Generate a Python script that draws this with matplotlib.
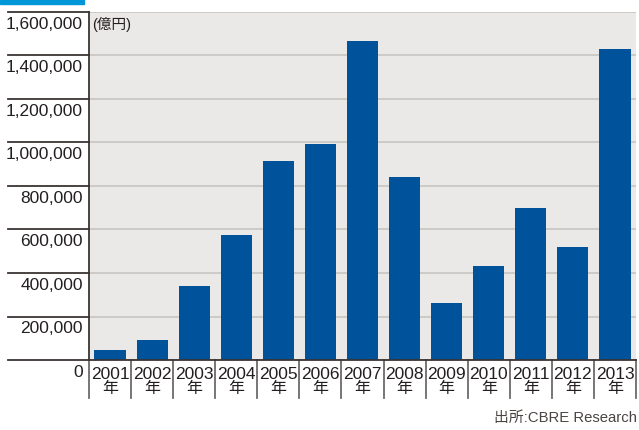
import matplotlib
matplotlib.use('Agg')
import matplotlib.pyplot as plt
from matplotlib.patches import Rectangle
import matplotlib.transforms as mtransforms

# data (億円)
years = ['2001', '2002', '2003', '2004', '2005', '2006', '2007',
         '2008', '2009', '2010', '2011', '2012', '2013']
values = [46000, 92000, 340000, 575000, 915000, 993000, 1467000,
          841000, 262000, 432000, 699000, 520000, 1430000]
y_ticks = [0, 200000, 400000, 600000, 800000, 1000000, 1200000, 1400000, 1600000]

fonts = ['Liberation Sans', 'Noto Sans CJK JP', 'DejaVu Sans']
plt.rcParams['font.family'] = fonts

text_color = '#231f20'
bar_color = '#00529b'
bg_color = '#ebe9e7'
grid_color = '#c9c8c4'
line_color = '#3a3533'

fig = plt.figure(figsize=(6.39, 4.30), dpi=100)
ax = fig.add_axes([89 / 639, 70 / 430, 547 / 639, 348 / 430])
ax.set_facecolor(bg_color)

x = list(range(len(years)))
ax.bar(x, values, width=0.74, color=bar_color, zorder=3)

ax.set_xlim(-0.5, len(years) - 0.5)
ax.set_ylim(0, 1600000)

# gridlines
ax.set_yticks(y_ticks)
ax.yaxis.grid(True, color=grid_color, linewidth=1.3, zorder=1)
ax.tick_params(axis='y', length=0, labelleft=False)
ax.tick_params(axis='x', length=0, labelbottom=False)

for side in ['top', 'right']:
    ax.spines[side].set_visible(False)
for side in ['left', 'bottom']:
    ax.spines[side].set_color(line_color)
    ax.spines[side].set_linewidth(1.3)
    ax.spines[side].set_zorder(4)

# y labels hanging just below the tick lines in the left margin
ytrans = mtransforms.blended_transform_factory(ax.transAxes, ax.transData)
x_left = -81 / 547
for v in y_ticks:
    ax.plot([x_left, 0], [v, v], transform=ytrans, color=line_color,
            linewidth=1.3, clip_on=False, zorder=4)
    ax.text(-6 / 547, v - 22000, f'{v:,}', transform=ytrans, ha='right',
            va='top', fontsize=12.5, color=text_color)

# category separators and year labels below the axis
xtrans = mtransforms.blended_transform_factory(ax.transData, ax.transAxes)
sep_bottom = -38 / 348
for i in range(len(years) + 1):
    ax.plot([i - 0.5, i - 0.5], [0, sep_bottom], transform=xtrans,
            color='#6e6a68', linewidth=1.3, clip_on=False, zorder=4)
for i, yr in enumerate(years):
    ax.text(i, -7 / 348, yr, transform=xtrans, ha='center', va='top',
            fontsize=12.5, color=text_color)
    ax.text(i, -21 / 348, '年', transform=xtrans, ha='center', va='top',
            fontsize=11.5, color=text_color)

ax.text(3 / 547, 1 - 12 / 348, '(億円)', transform=ax.transAxes,
        ha='left', va='center', fontsize=10.5, color=text_color)

fig.text(637 / 639, 1 - 418 / 430, '出所:CBRE Research', ha='right',
         va='center', fontsize=10.7, color='#4a4543')

# blue strip at top-left
fig.patches.append(Rectangle((0, 1 - 4 / 430), 84 / 639, 4 / 430,
                             transform=fig.transFigure, color='#0096d8'))

fig.savefig('out.png', dpi=100)
